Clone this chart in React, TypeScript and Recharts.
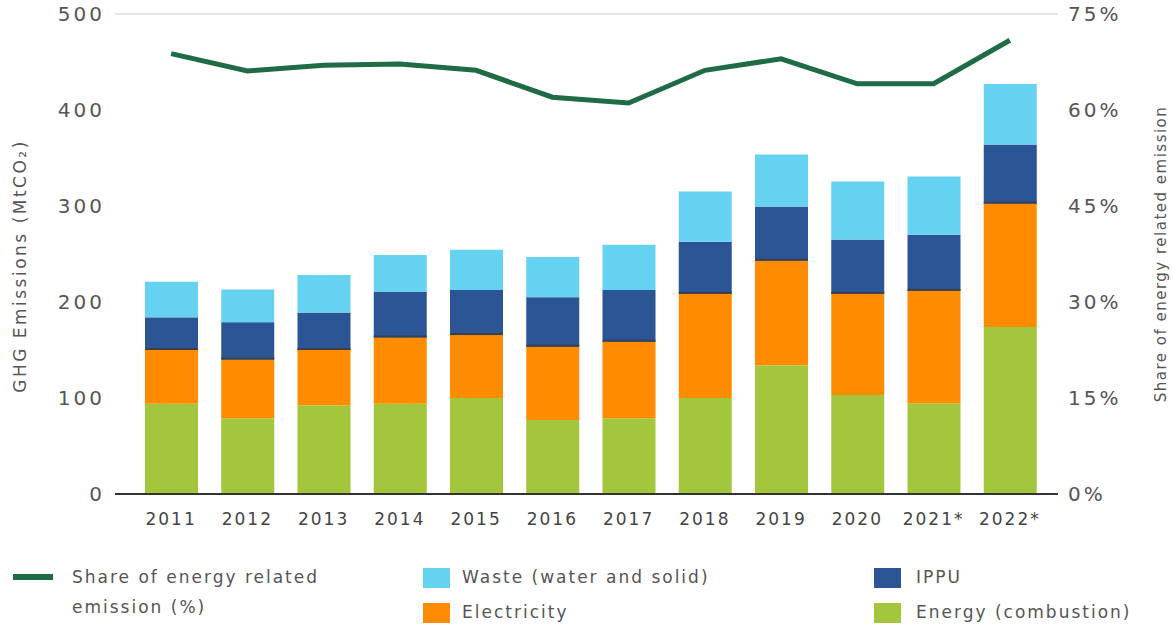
import React from 'react';
import {
  ComposedChart,
  Bar,
  Line,
  XAxis,
  YAxis,
  CartesianGrid,
} from 'recharts';

// values (MtCO2, and % for the share line)
const years = ['2011', '2012', '2013', '2014', '2015', '2016', '2017', '2018', '2019', '2020', '2021*', '2022*'];
const energy = [94, 79, 92.5, 94, 100, 77, 79, 100, 134, 103, 94.6, 174];
const electricity = [56, 61, 57.5, 69, 65.6, 76.4, 79.6, 108.5, 109, 105.5, 117, 128.5];
const ippu = [34, 39, 39, 47.5, 47, 51.6, 54, 54.3, 56.4, 56.5, 58.4, 61.5];
const waste = [37, 34, 39, 38.5, 41.8, 42, 47, 52.2, 54.3, 60.5, 60.7, 63];
const energyShare = [68.8, 66.1, 67, 67.2, 66.2, 62, 61.1, 66.2, 68, 64.1, 64.1, 70.9];

const leftTicks = [0, 100, 200, 300, 400, 500];
const rightTicks = [0, 15, 30, 45, 60, 75];

const COLORS = {
  energy: '#a3c63c',
  electricity: '#ff8c00',
  ippu: '#2c5596',
  waste: '#66d2f2',
  share: '#1f6b46',
};

const chartData = years.map((year, i) => ({
  year,
  energy: energy[i],
  electricity: electricity[i],
  ippu: ippu[i],
  waste: waste[i],
  share: energyShare[i],
}));

const FONT = '"DejaVu Sans", sans-serif';

const legendText: React.CSSProperties = {
  position: 'absolute',
  fontFamily: FONT,
  fontSize: 17,
  letterSpacing: 2,
  color: '#555',
  lineHeight: '30px',
  whiteSpace: 'nowrap',
};

const Swatch = ({ x, y, color }: { x: number; y: number; color: string }) => (
  <div style={{ position: 'absolute', left: x, top: y, width: 27, height: 20, background: color }} />
);

// IPPU segment with the thin dark edge along its bottom, as in the source
const IppuShape = (props: any) => {
  const { x, y, width, height, fill } = props;
  if (!height) return null;
  return (
    <g>
      <rect x={x} y={y} width={width} height={height} fill={fill} />
      <rect x={x} y={y + height - 2} width={width} height={2} fill="#3a3f4a" />
    </g>
  );
};

const App: React.FC = () => {
  const tickStyle = { fill: '#555', fontSize: 20, fontFamily: FONT, letterSpacing: 3 };

  return (
    <div style={{ position: 'absolute', left: 0, top: 0, width: 1173, height: 624, background: '#fff' }}>
      <ComposedChart
        width={1173}
        height={540}
        data={chartData}
        margin={{ top: 14, right: 0, bottom: 0, left: 0 }}
        barSize={53}
      >
        <CartesianGrid vertical={false} stroke="#dcdcdc" strokeWidth={1.5} />
        <XAxis
          dataKey="year"
          height={46}
          padding={{ left: 18, right: 10 }}
          axisLine={{ stroke: '#333', strokeWidth: 2 }}
          tickLine={false}
          tickSize={2}
          tickMargin={17}
          tick={{ fill: '#444', fontSize: 17, fontFamily: FONT, letterSpacing: 2 }}
          interval={0}
        />
        <YAxis
          yAxisId="left"
          width={115}
          domain={[0, 500]}
          ticks={leftTicks}
          axisLine={false}
          tickLine={false}
          tickSize={8}
          tickMargin={2}
          tick={tickStyle}
          label={{
            value: 'GHG Emissions (MtCO₂)',
            angle: -90,
            position: 'insideLeft',
            offset: 20,
            dy: 12,
            style: { fill: '#555', fontSize: 17, letterSpacing: 2.5, fontFamily: FONT, textAnchor: 'middle' },
          }}
        />
        <YAxis
          yAxisId="right"
          orientation="right"
          width={115}
          domain={[0, 75]}
          ticks={rightTicks}
          axisLine={false}
          tickLine={false}
          tickSize={8}
          tickMargin={2}
          tick={tickStyle}
          tickFormatter={(v: number) => `${v}%`}
          label={{
            value: 'Share of energy related emission',
            angle: -90,
            position: 'insideRight',
            offset: 12,
            style: { fill: '#555', fontSize: 15, letterSpacing: 1.5, fontFamily: FONT, textAnchor: 'middle' },
          }}
        />
        <Bar yAxisId="left" dataKey="energy" stackId="a" fill={COLORS.energy} isAnimationActive={false} />
        <Bar yAxisId="left" dataKey="electricity" stackId="a" fill={COLORS.electricity} isAnimationActive={false} />
        <Bar yAxisId="left" dataKey="ippu" stackId="a" fill={COLORS.ippu} shape={IppuShape} isAnimationActive={false} />
        <Bar yAxisId="left" dataKey="waste" stackId="a" fill={COLORS.waste} isAnimationActive={false} />
        <Line
          yAxisId="right"
          type="linear"
          dataKey="share"
          stroke={COLORS.share}
          strokeWidth={5}
          dot={false}
          isAnimationActive={false}
        />
      </ComposedChart>

      {/* legend */}
      <div style={{ position: 'absolute', left: 13, top: 574, width: 40, height: 6, background: COLORS.share }} />
      <div style={{ ...legendText, left: 72, top: 562 }}>Share of energy related</div>
      <div style={{ ...legendText, left: 72, top: 592 }}>emission (%)</div>

      <Swatch x={423} y={568} color={COLORS.waste} />
      <div style={{ ...legendText, left: 462, top: 562 }}>Waste (water and solid)</div>
      <Swatch x={423} y={603} color={COLORS.electricity} />
      <div style={{ ...legendText, left: 462, top: 597 }}>Electricity</div>

      <Swatch x={874} y={568} color={COLORS.ippu} />
      <div style={{ ...legendText, left: 916, top: 562 }}>IPPU</div>
      <Swatch x={874} y={603} color={COLORS.energy} />
      <div style={{ ...legendText, left: 916, top: 597 }}>Energy (combustion)</div>
    </div>
  );
};

export default App;
